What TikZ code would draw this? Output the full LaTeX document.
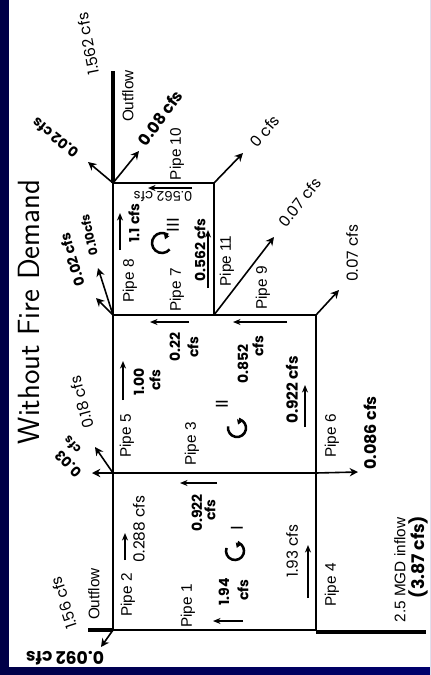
\documentclass[tikz,border=0pt]{standalone}
\usepackage{fontspec}
\setmainfont{Liberation Sans}
\newfontfamily\handfont{Poppins}
\usepackage{tikz}
\usetikzlibrary{positioning,arrows.meta,calc}

\begin{document}
\begin{tikzpicture}[
      x=0.75pt, y=-0.75pt,
      pipe/.style={draw, line width=1pt},
      mainline/.style={draw, line width=2.5pt},
      arrow/.style={-{Stealth[length=2.2mm,width=2.2mm]}, line width=1.2pt},
      flow/.style={-{Stealth[length=2mm,width=1.6mm]}, line width=0.9pt},
      circflow/.style={-{Stealth[length=1.3mm,width=1.6mm]}, line width=1.9pt, y=0.75pt},
      pipelabel/.style={font=\fontsize{11.5}{12}\selectfont, rotate=90, inner sep=0pt},
      value/.style={font=\handfont\fontsize{11.5}{12}\selectfont, inner sep=0pt},
      boldvalue/.style={font=\handfont\bfseries\fontsize{10.5}{11}\selectfont, inner sep=0pt},
      loopname/.style={font=\rmfamily\fontsize{13}{14}\selectfont, rotate=90, inner sep=0pt}
  ]
  \useasboundingbox (0,0) rectangle (430,675);

  %% ---- Background ----
  \definecolor{navyl}{HTML}{000048}
  \definecolor{navyr}{HTML}{00006C}
  \shade[left color=navyl, right color=navyr] (0,0) rectangle (430,675);
  \fill[white] (9,0) rectangle (430,667);

  %% ---- Junctions ----
  \coordinate (j1) at (113,183);
  \coordinate (j2) at (214,183);
  \coordinate (j3) at (113,315);
  \coordinate (j4) at (214,315);
  \coordinate (j5) at (316,315);
  \coordinate (j6) at (113,473);
  \coordinate (j7) at (316,473);
  \coordinate (j8) at (113,630);
  \coordinate (j9) at (316,630);

  %% ---- Pipes ----
  \draw[pipe] (j1) -- (j2);
  \draw[pipe] (j1) -- (j8);
  \draw[pipe] (j2) -- (j4);
  \draw[pipe] (j3) -- (j5);
  \draw[pipe] (j6) -- (j7);
  \draw[pipe] (j8) -- (j9);
  \draw[pipe] (j5) -- (j9);

  %% ---- Outflows and inflow ----
  \coordinate (out_top) at (113,71);
  \coordinate (out_bot) at (88,630);
  \coordinate (in_a) at (316,632);
  \coordinate (in_b) at (426,632);
  \draw[mainline] (j1) -- (out_top);
  \draw[mainline] (j8) -- (out_bot);
  \draw[mainline] (in_a) -- (in_b);

  %% ---- Demand arrows ----
  \coordinate (d1) at (88,162);
  \coordinate (d2) at (139,151);
  \coordinate (d3) at (243,153);
  \coordinate (d4) at (96,298);
  \coordinate (d5) at (98,268);
  \coordinate (d6) at (274,237);
  \coordinate (d7) at (339,290);
  \coordinate (d8) at (92,473);
  \coordinate (d9) at (95,447);
  \coordinate (d10) at (358,472);
  \coordinate (d11) at (101,647);
  \draw[arrow] (j1) -- (d1);
  \draw[arrow] (j1) -- (d2);
  \draw[arrow] (j2) -- (d3);
  \draw[arrow] (j3) -- (d4);
  \draw[arrow] (j3) -- (d5);
  \draw[arrow] (j4) -- (d6);
  \draw[arrow] (j5) -- (d7);
  \draw[arrow] (j6) -- (d8);
  \draw[arrow] (j6) -- (d9);
  \draw[arrow] (j7) -- (d10);
  \draw[arrow] (j8) -- (d11);

  %% ---- Flow direction arrows ----
  \coordinate (f2a) at (125,560);  \coordinate (f2b) at (125,533);
  \coordinate (f3a) at (217,483);  \coordinate (f3b) at (180,483);
  \coordinate (f1a) at (243,621);  \coordinate (f1b) at (213,621);
  \coordinate (f4a) at (308,598);  \coordinate (f4b) at (308,545);
  \coordinate (f5a) at (123,400);  \coordinate (f5b) at (123,361);
  \coordinate (f6a) at (305,427);  \coordinate (f6b) at (305,385);
  \coordinate (f7a) at (208,288);  \coordinate (f7b) at (208,230);
  \coordinate (f8a) at (120,250);  \coordinate (f8b) at (120,213);
  \coordinate (f9a) at (287,322);  \coordinate (f9b) at (233,322);
  \coordinate (f10a) at (192,188); \coordinate (f10b) at (148,188);
  \coordinate (f11a) at (189,322); \coordinate (f11b) at (150,322);
  \draw[flow] (f1a) -- (f1b);
  \draw[flow] (f2a) -- (f2b);
  \draw[flow] (f3a) -- (f3b);
  \draw[flow] (f4a) -- (f4b);
  \draw[flow] (f5a) -- (f5b);
  \draw[flow] (f6a) -- (f6b);
  \draw[flow] (f7a) -- (f7b);
  \draw[flow] (f8a) -- (f8b);
  \draw[flow] (f9a) -- (f9b);
  \draw[flow] (f10a) -- (f10b);
  \draw[flow] (f11a) -- (f11b);

  %% ---- Loop symbols ----
  \coordinate (c1) at (235,551);
  \coordinate (c2) at (237,428);
  \coordinate (c3) at (162,243);
  \draw[circflow, shift={(c1)}] (160:9) arc (160:425:9) -- ++(-2,-5);
  \draw[circflow, shift={(c2)}] (170:9) arc (170:430:9) -- ++(-2,-5);
  \draw[circflow, shift={(c3)}] (-40:10) arc (-40:-300:10) -- ++(-2,-5);
  \node[loopname] (loop1) at (237,528) {I};
  \node[loopname] (loop2) at (222,404) {II};
  \node[loopname] (loop3) at (173,225) {III};

  %% ---- Title ----
  \node[font=\sffamily\fontsize{23}{24}\selectfont, rotate=90, inner sep=0pt] (title) at (29,312)
      {Without Fire Demand};

  %% ---- Pipe labels ----
  \node[pipelabel] (pipe1) at (188,606) {Pipe 1};
  \node[pipelabel] (pipe2) at (128,595) {Pipe 2};
  \node[pipelabel] (pipe3) at (192,444) {Pipe 3};
  \node[pipelabel] (pipe4) at (332,585) {Pipe 4};
  \node[pipelabel] (pipe5) at (127,436) {Pipe 5};
  \node[pipelabel] (pipe6) at (332,436) {Pipe 6};
  \node[pipelabel] (pipe7) at (177,290) {Pipe 7};
  \node[pipelabel] (pipe8) at (130,281) {Pipe 8};
  \node[pipelabel] (pipe9) at (263,288) {Pipe 9};
  \node[pipelabel] (pipe10) at (177,154) {Pipe 10};
  \node[pipelabel] (pipe11) at (227,261) {Pipe 11};
  \node[pipelabel] (outflow1) at (128,96) {Outflow};
  \node[pipelabel] (outflow2) at (94,594) {Outflow};
  \node[pipelabel] (inflow) at (400,570) {2.5 MGD inflow};

  %% ---- Flow values ----
  \node[value, rotate=101] (v1562) at (88,44) {1.562 cfs};
  \node[boldvalue, rotate=142] (v002a) at (55,138) {0.02 cfs};
  \node[boldvalue, rotate=54, font=\handfont\bfseries\fontsize{12}{13}\selectfont] (v008) at (160,118) {0.08 cfs};
  \node[value, rotate=50] (v0) at (265,131) {0 cfs};
  \node[value, rotate=52] (v007a) at (300,202) {0.07 cfs};
  \node[value, rotate=90] (v007b) at (352,253) {0.07 cfs};
  \node[boldvalue, rotate=107] (v002b) at (72,260) {0.02 cfs};
  \node[boldvalue, rotate=103, font=\handfont\bfseries\fontsize{9}{10}\selectfont] (v010) at (89,235) {0.10cfs};
  \node[value, rotate=105] (v018) at (82,402) {0.18 cfs};
  \node[boldvalue, rotate=135] (v003) at (68,464) {0.03};
  \node[boldvalue, rotate=135, font=\handfont\bfseries\fontsize{9}{10}\selectfont] (v003c) at (72,445) {cfs};
  \node[value, rotate=90] (v0288) at (139,529) {0.288 cfs};
  \node[value, rotate=108] (v156) at (64,603) {1.56 cfs};
  \node[boldvalue, rotate=180, font=\handfont\bfseries\fontsize{13}{14}\selectfont] (v0092) at (65,658) {0.092 cfs};
  \node[boldvalue, rotate=90] (v1100) at (139,382) {1.00};
  \node[boldvalue, rotate=90] (v1100c) at (155,380) {cfs};
  \node[boldvalue, rotate=90] (v11) at (134,223) {1.1 cfs};
  \node[value, rotate=180, font=\handfont\fontsize{10}{11}\selectfont] (v0562a) at (163,197) {0.562 cfs};
  \node[boldvalue, rotate=90] (v0562b) at (200,250) {0.562 cfs};
  \node[boldvalue, rotate=90] (v022) at (175,347) {0.22};
  \node[boldvalue, rotate=90] (v022c) at (193,347) {cfs};
  \node[boldvalue, rotate=90] (v0852) at (243,364) {0.852};
  \node[boldvalue, rotate=90] (v0852c) at (258,346) {cfs};
  \node[boldvalue, rotate=90] (v0922a) at (197,513) {0.922};
  \node[boldvalue, rotate=90] (v0922ac) at (210,510) {cfs};
  \node[boldvalue, rotate=90, font=\handfont\bfseries\fontsize{11.5}{12}\selectfont] (v0922b) at (292,390) {0.922 cfs};
  \node[boldvalue, rotate=90, font=\handfont\bfseries\fontsize{12}{13}\selectfont] (v0086) at (370,433) {0.086 cfs};
  \node[boldvalue, rotate=90] (v194) at (224,592) {1.94};
  \node[boldvalue, rotate=90] (v194c) at (243,590) {cfs};
  \node[value, rotate=90] (v193) at (292,551) {1.93 cfs};
  \node[boldvalue, rotate=90, font=\handfont\bfseries\fontsize{13}{14}\selectfont] (v387) at (418,557) {(3.87 cfs)};

\end{tikzpicture}
\end{document}
